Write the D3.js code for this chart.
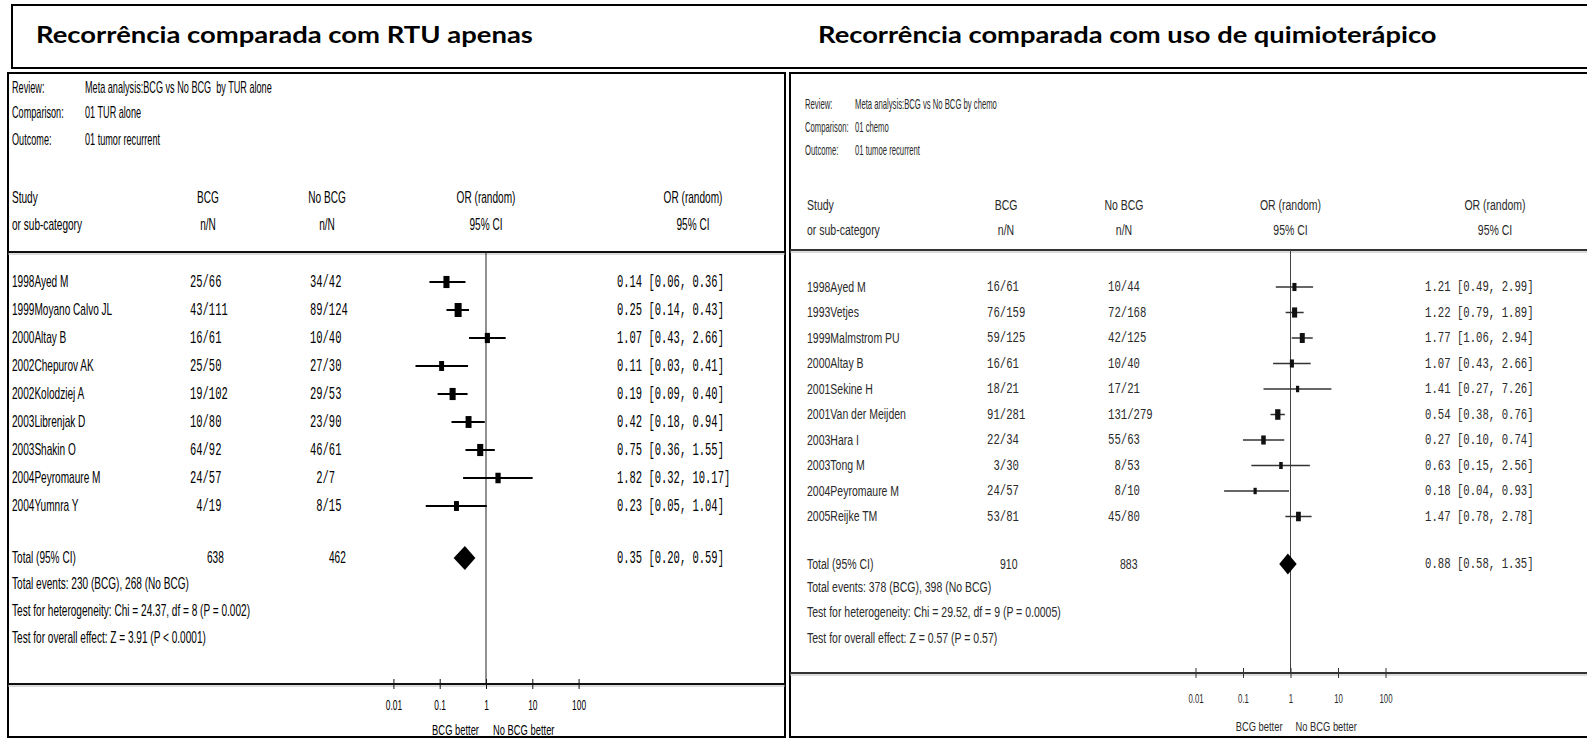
<!DOCTYPE html>
<html><head><meta charset="utf-8">
<script src="https://cdn.jsdelivr.net/npm/d3@7"></script>
<style>body{margin:0;background:#fff;overflow:hidden} svg{display:block} text{white-space:pre}</style>
</head><body><svg id="c" width="1587" height="739"></svg>
<script>
// ---------------- DATA ----------------
const titleLeft = "Recorrência comparada com RTU apenas";
const titleRight = "Recorrência comparada com uso de quimioterápico";

const metaLabels = ["Review:", "Comparison:", "Outcome:"];
const metaLeft = ["Meta analysis:BCG vs No BCG  by TUR alone", "01 TUR alone", "01 tumor recurrent"];
const metaRight = ["Meta analysis:BCG vs No BCG by chemo", "01 chemo", "01 tumoe recurrent"];

const headerRow1 = ["Study", "BCG", "No BCG", "OR (random)", "OR (random)"];
const headerRow2 = ["or sub-category", "n/N", "n/N", "95% CI", "95% CI"];

// Left panel: BCG vs TUR alone
const studiesL = ["1998Ayed M", "1999Moyano Calvo JL", "2000Altay B", "2002Chepurov AK", "2002Kolodziej A",
  "2003Librenjak D", "2003Shakin O", "2004Peyromaure M", "2004Yumnra Y"];
const bcgL = ["25/66", "43/111", "16/61", "25/50", "19/102", "10/80", "64/92", "24/57", " 4/19"];
const noBcgL = ["34/42", "89/124", "10/40", "27/30", "29/53", "23/90", "46/61", " 2/7", " 8/15"];
const orL = [0.14, 0.25, 1.07, 0.11, 0.19, 0.42, 0.75, 1.82, 0.23];
const loL = [0.06, 0.14, 0.43, 0.03, 0.09, 0.18, 0.36, 0.32, 0.05];
const hiL = [0.36, 0.43, 2.66, 0.41, 0.40, 0.94, 1.55, 10.17, 1.04];
const weightL = [12, 16, 8.5, 8, 12, 11.5, 12, 9, 8];   // estimated study weights (%)
const totalCountsL = ["638", "462"];
const totalL = [0.35, 0.20, 0.59];
const footL = ["Total events: 230 (BCG), 268 (No BCG)",
  "Test for heterogeneity: Chi = 24.37, df = 8 (P = 0.002)",
  "Test for overall effect: Z = 3.91 (P < 0.0001)"];

// Right panel: BCG vs chemotherapy
const studiesR = ["1998Ayed M", "1993Vetjes", "1999Malmstrom PU", "2000Altay B", "2001Sekine H",
  "2001Van der Meijden", "2003Hara I", "2003Tong M", "2004Peyromaure M", "2005Reijke TM"];
const bcgR = ["16/61", "76/159", "59/125", "16/61", "18/21", "91/281", "22/34", " 3/30", "24/57", "53/81"];
const noBcgR = ["10/44", "72/168", "42/125", "10/40", "17/21", "131/279", "55/63", " 8/53", " 8/10", "45/80"];
const orR = [1.21, 1.22, 1.77, 1.07, 1.41, 0.54, 0.27, 0.63, 0.18, 1.47];
const loR = [0.49, 0.79, 1.06, 0.43, 0.27, 0.38, 0.10, 0.15, 0.04, 0.78];
const hiR = [2.99, 1.89, 2.94, 2.66, 7.26, 0.76, 0.74, 2.56, 0.93, 2.78];
const weightR = [8, 12.5, 12, 8, 5, 13.5, 10, 6, 5, 11];
const totalCountsR = ["910", "883"];
const totalR = [0.88, 0.58, 1.35];
const footR = ["Total events: 378 (BCG), 398 (No BCG)",
  "Test for heterogeneity: Chi = 29.52, df = 9 (P = 0.0005)",
  "Test for overall effect: Z = 0.57 (P = 0.57)"];

const tickValues = [0.01, 0.1, 1, 10, 100];
const tickLabels = ["0.01", "0.1", "1", "10", "100"];
const favourLabels = ["BCG better", "No BCG better"];

// ---------------- DRAW ----------------
const svg = d3.select("#c");
const SANS = "'Liberation Sans', Arial, sans-serif";
const MONO = "'Liberation Mono', 'Courier New', monospace";

function txt(g, x, y, s, o) {
  return g.append("text")
    .attr("transform", `translate(${x},${y}) scale(${o.sx},1)`)
    .attr("font-family", o.ff).attr("font-size", o.fs).attr("fill", o.fill)
    .attr("font-weight", o.fw || "normal")
    .attr("text-anchor", o.anchor || "start")
    .attr("dominant-baseline", "central")
    .text(s);
}

// title box
svg.append("rect").attr("x", 12).attr("y", 5).attr("width", 1600).attr("height", 63)
  .attr("fill", "none").attr("stroke", "#000").attr("stroke-width", 2);
function title(x, y, s, w) {
  const t = svg.append("text").attr("x", 0).attr("y", 0)
    .attr("font-family", "Lato, 'Open Sans', sans-serif").attr("font-weight", "bold")
    .attr("font-size", 22).attr("fill", "#000").text(s);
  const L = t.node().getComputedTextLength();
  t.attr("transform", `translate(${x},${y}) scale(${w / L},1)`);
}
title(36, 43, titleLeft, 497);
title(818, 43, titleRight, 619);

function panel(cfg, d) {
  const g = svg.append("g");
  g.append("rect").attr("x", cfg.x0).attr("y", 73).attr("width", cfg.x1 - cfg.x0).attr("height", 664)
    .attr("fill", "#fff").attr("stroke", "#000").attr("stroke-width", 2);

  const body = { ff: SANS, fs: cfg.fs, sx: cfg.sx, fill: cfg.ink };
  const meta = { ff: SANS, fs: cfg.mfs, sx: cfg.msx, fill: cfg.ink };
  const mono = { ff: MONO, fs: cfg.monoFs, sx: cfg.monoSx, fill: cfg.ink };

  metaLabels.forEach((m, i) => {
    txt(g, cfg.metaLabelX, cfg.metaY[i], m, meta);
    txt(g, cfg.metaValX, cfg.metaY[i], d.meta[i], meta);
  });

  const hx = [cfg.colStudy, cfg.hdrBCG, cfg.hdrNo, cfg.xOne, cfg.hdrOR2];
  [headerRow1, headerRow2].forEach((row, r) => {
    row.forEach((s, i) => txt(g, hx[i], cfg.hdrY[r], s, Object.assign({}, body, { anchor: i === 0 ? "start" : "middle" })));
  });

  // separator lines
  function sep(y) {
    g.append("line").attr("x1", cfg.x0).attr("x2", cfg.x1).attr("y1", y).attr("y2", y)
      .attr("stroke", cfg.sepInk).attr("stroke-width", 2);
    g.append("line").attr("x1", cfg.x0).attr("x2", cfg.x1).attr("y1", y + 2).attr("y2", y + 2)
      .attr("stroke", "#b8b8b8").attr("stroke-width", 1);
  }
  sep(cfg.hdrLineY);

  const x = d3.scaleLog().domain([0.01, 100]).range([cfg.xOne - 2 * cfg.dec, cfg.xOne + 2 * cfg.dec]);
  const y = d3.scaleLinear().domain([0, 1]).range([cfg.rowY0, cfg.rowY0 + cfg.rowDy]);
  const sz = d3.scaleSqrt().domain([0, 16]).range([0, cfg.boxMax]);

  // line of no effect
  g.append("line").attr("x1", x(1)).attr("x2", x(1)).attr("y1", cfg.hdrLineY).attr("y2", cfg.axisY)
    .attr("stroke", cfg.vInk).attr("stroke-width", 1);

  d.studies.forEach((s, i) => {
    const yy = y(i);
    txt(g, cfg.colStudy, yy, s, body);
    txt(g, cfg.colBCG, yy, d.bcg[i], mono);
    txt(g, cfg.colNo, yy, d.nobcg[i], mono);
    txt(g, cfg.colCI, yy, `${d.or[i].toFixed(2)} [${d.lo[i].toFixed(2)}, ${d.hi[i].toFixed(2)}]`, mono);
    g.append("line").attr("x1", x(d.lo[i])).attr("x2", x(d.hi[i])).attr("y1", yy).attr("y2", yy)
      .attr("stroke", cfg.whiskInk).attr("stroke-width", cfg.whiskW);
    const h = sz(d.w[i]), w = h * cfg.boxAspect;
    g.append("rect").attr("x", x(d.or[i]) - w / 2).attr("y", yy - h / 2).attr("width", w).attr("height", h)
      .attr("fill", cfg.boxInk);
  });

  // total
  txt(g, cfg.colStudy, cfg.totalY, "Total (95% CI)", body);
  txt(g, cfg.totBCG, cfg.totalY, d.totalCounts[0], body);
  txt(g, cfg.totNo, cfg.totalY, d.totalCounts[1], body);
  txt(g, cfg.colCI, cfg.totalY, `${d.total[0].toFixed(2)} [${d.total[1].toFixed(2)}, ${d.total[2].toFixed(2)}]`, mono);
  const dh = cfg.diamondH / 2, ty = cfg.totalY;
  g.append("path")
    .attr("d", `M${x(d.total[1])},${ty}L${x(d.total[0])},${ty - dh}L${x(d.total[2])},${ty}L${x(d.total[0])},${ty + dh}Z`)
    .attr("fill", "#000");

  d.foot.forEach((s, i) => txt(g, cfg.colStudy, cfg.footY[i], s, body));

  // axis
  sep(cfg.axisY);
  const ax = g.append("g").attr("transform", `translate(0,${cfg.axisY})`)
    .call(d3.axisBottom(x).tickValues(tickValues).tickFormat((v, i) => tickLabels[i]).tickSizeOuter(0));
  ax.select(".domain").remove();
  ax.selectAll(".tick line").attr("y1", -5).attr("y2", 5).attr("stroke", cfg.sepInk).attr("stroke-width", 1);
  ax.selectAll(".tick text").attr("y", cfg.tickY - cfg.axisY).attr("dy", "0.35em")
    .attr("font-family", SANS).attr("font-size", cfg.tickFs).attr("fill", cfg.ink)
    .attr("transform", `scale(${cfg.tickSx},1)`);

  txt(g, x(1) - cfg.favGap, cfg.betterY, favourLabels[0], { ff: SANS, fs: cfg.tickFs, sx: cfg.favSx, fill: cfg.ink, anchor: "end" });
  txt(g, x(1) + cfg.favGap2, cfg.betterY, favourLabels[1], { ff: SANS, fs: cfg.tickFs, sx: cfg.favSx, fill: cfg.ink, anchor: "start" });
}

panel({
  x0: 8, x1: 785, ink: "#000", sepInk: "#111", vInk: "#222", whiskInk: "#000", whiskW: 2, boxInk: "#000",
  fs: 16, sx: 0.63, mfs: 16, msx: 0.57, monoFs: 18, monoSx: 0.583,
  metaLabelX: 12, metaValX: 85, metaY: [87, 112, 139],
  hdrY: [198, 225], hdrLineY: 252, rowY0: 282, rowDy: 28,
  colStudy: 12, colBCG: 190, colNo: 310, colCI: 617, hdrBCG: 208, hdrNo: 327, hdrOR2: 693,
  totBCG: 207, totNo: 329, totalY: 558, footY: [584, 611, 638],
  axisY: 684, tickY: 705, betterY: 730, xOne: 486, dec: 46.3,
  boxMax: 14, boxAspect: 0.5, diamondH: 24, tickFs: 14, tickSx: 0.6, favSx: 0.67, favGap: 7, favGap2: 7
}, {
  meta: metaLeft, studies: studiesL, bcg: bcgL, nobcg: noBcgL, or: orL, lo: loL, hi: hiL, w: weightL,
  totalCounts: totalCountsL, total: totalL, foot: footL
});

panel({
  x0: 790, x1: 1620, ink: "#2a2a2a", sepInk: "#333", vInk: "#444", whiskInk: "#333", whiskW: 1.5, boxInk: "#111",
  fs: 14, sx: 0.75, mfs: 14, msx: 0.55, monoFs: 15, monoSx: 0.71,
  metaLabelX: 805, metaValX: 855, metaY: [104, 127, 150],
  hdrY: [205, 230], hdrLineY: 250, rowY0: 287, rowDy: 25.5,
  colStudy: 807, colBCG: 987, colNo: 1108, colCI: 1425, hdrBCG: 1006, hdrNo: 1124, hdrOR2: 1495,
  totBCG: 1000, totNo: 1120, totalY: 564, footY: [587, 612, 638],
  axisY: 673, tickY: 698, betterY: 726, xOne: 1290.5, dec: 47.5,
  boxMax: 11.5, boxAspect: 0.5, diamondH: 21, tickFs: 13, tickSx: 0.6, favSx: 0.72, favGap: 8, favGap2: 5
}, {
  meta: metaRight, studies: studiesR, bcg: bcgR, nobcg: noBcgR, or: orR, lo: loR, hi: hiR, w: weightR,
  totalCounts: totalCountsR, total: totalR, foot: footR
});
</script></body></html>
